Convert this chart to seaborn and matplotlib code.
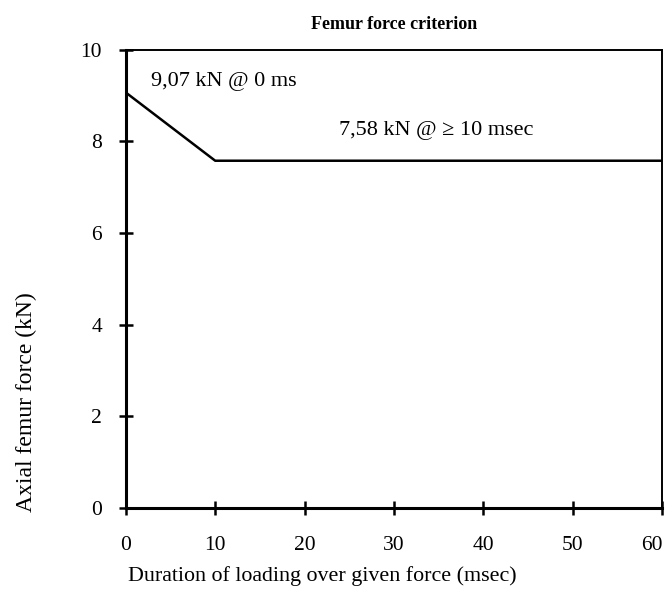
import matplotlib
matplotlib.use("Agg")
import matplotlib.pyplot as plt
import numpy as np
import pandas as pd
import seaborn as sns

# criterion curve (msec, kN)
duration = [0, 10, 60]
force = [9.07, 7.58, 7.58]
x_ticks = [0, 10, 20, 30, 40, 50, 60]
y_ticks = [0, 2, 4, 6, 8, 10]

sns.set_theme(style="white")
plt.rcParams['font.family'] = ['Liberation Serif', 'DejaVu Serif']
plt.rcParams['text.color'] = 'black'
plt.rcParams['axes.labelcolor'] = 'black'

df = pd.DataFrame({"duration": duration, "force": force})

fig = plt.figure(figsize=(6.69, 5.94), dpi=100)
ax = fig.add_axes([0.188, 0.145, 0.802, 0.771])
sns.lineplot(data=df, x="duration", y="force", color="black", linewidth=1.8, ax=ax)

ax.set_xlim(0, 60)
ax.set_ylim(0, 10)
ax.set_xticks(x_ticks)
ax.set_yticks(y_ticks)
ax.tick_params(direction="inout", length=10, width=1.8, labelsize=15.5,
               bottom=True, left=True, colors="black")
ax.tick_params(axis="x", pad=15)
ax.tick_params(axis="y", pad=12)
ax.get_xticklabels()[-1].set_horizontalalignment("right")
for side in ["left", "bottom"]:
    ax.spines[side].set_linewidth(2.2)
    ax.spines[side].set_color("black")
for side in ["top", "right"]:
    ax.spines[side].set_linewidth(1.4)
    ax.spines[side].set_color("black")

ax.text(2.8, 9.3, "9,07 kN @ 0 ms", fontsize=16, va="center")
ax.text(23.8, 8.25, "7,58 kN @ \u2265 10 msec", fontsize=16, va="center")

ax.set_title("Femur force criterion", fontsize=13, fontweight="bold", pad=15)
ax.set_xlabel("Duration of loading over given force (msec)", fontsize=15.8)
ax.xaxis.set_label_coords(0.366, -0.128)
ax.set_ylabel("Axial femur force (kN)", fontsize=17)
ax.yaxis.set_label_coords(-0.165, 0.23)

fig.savefig("out.png", dpi=100)
